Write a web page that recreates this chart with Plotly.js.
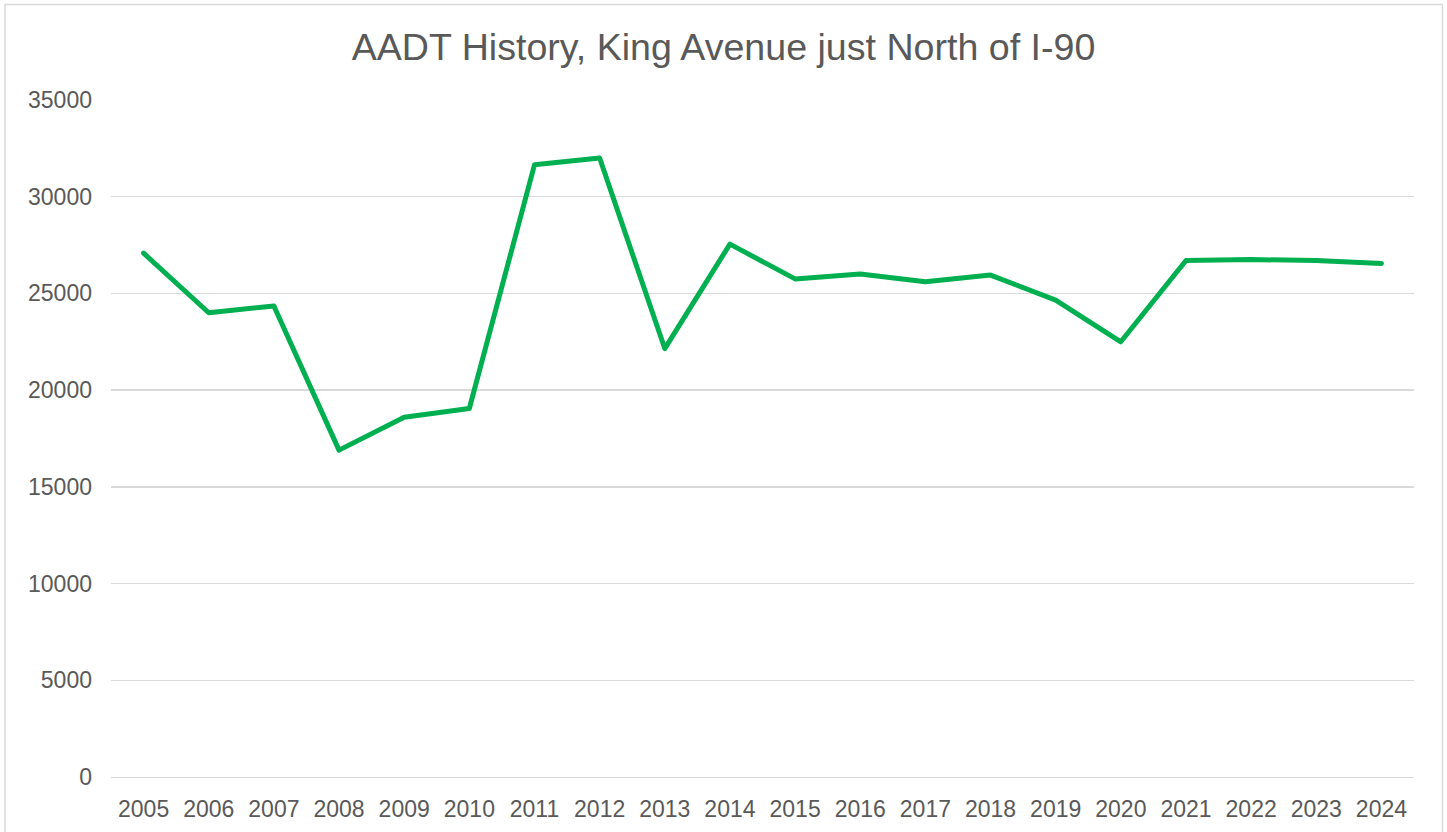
<!DOCTYPE html>
<html>
<head>
<meta charset="utf-8">
<script src="https://cdn.plot.ly/plotly-3.0.1.min.js"></script>
<style>
  html, body { margin: 0; padding: 0; background: #ffffff; }
  #chart { width: 1447px; height: 832px; }
  #chart .js-line { stroke-linejoin: round !important; stroke-linecap: round !important; }
</style>
</head>
<body>
<div id="chart"></div>
<script>
const years = ["2005","2006","2007","2008","2009","2010","2011","2012","2013","2014",
               "2015","2016","2017","2018","2019","2020","2021","2022","2023","2024"];
const aadt = [27080, 24000, 24350, 16900, 18600, 19050, 31650, 32000, 22150, 27550,
              25750, 26000, 25600, 25950, 24650, 22500, 26700, 26750, 26700, 26550];
const yTicks = [0, 5000, 10000, 15000, 20000, 25000, 30000, 35000];
const chartTitle = "AADT History, King Avenue just North of I-90";

const fontFam = '"Liberation Sans", Arial, sans-serif';
const txtColor = '#595959';
const gridColor = '#D9D9D9';

const trace = {
  x: years,
  y: aadt,
  type: 'scatter',
  mode: 'lines',
  line: { color: '#00B050', width: 5 },
  hoverinfo: 'x+y'
};

const layout = {
  width: 1447,
  height: 832,
  margin: { l: 111, r: 33, t: 100, b: 55 },
  paper_bgcolor: '#ffffff',
  plot_bgcolor: '#ffffff',
  showlegend: false,
  title: {
    text: chartTitle,
    font: { family: fontFam, size: 37.6, color: txtColor },
    x: 0.5, xref: 'container', xanchor: 'center',
    y: 1 - 47 / 832, yref: 'container', yanchor: 'middle'
  },
  xaxis: {
    type: 'category',
    range: [-0.5, years.length - 0.5],
    showgrid: false,
    showline: true,
    linecolor: gridColor,
    linewidth: 1.3,
    ticks: '',
    tickfont: { family: fontFam, size: 23, color: txtColor },
    ticklabelstandoff: 11,
    fixedrange: true
  },
  yaxis: {
    range: [0, 35000],
    tickvals: yTicks,
    ticktext: yTicks.map(String),
    showgrid: true,
    gridcolor: gridColor,
    gridwidth: 1.3,
    zeroline: false,
    showline: false,
    ticks: '',
    tickfont: { family: fontFam, size: 23, color: txtColor },
    ticklabelstandoff: 18,
    fixedrange: true
  },
  shapes: [{
    type: 'rect',
    xref: 'paper', yref: 'paper',
    x0: (5 - 111) / 1303, x1: (1442.5 - 111) / 1303,
    y0: (777 - 845) / 677, y1: (777 - 4.5) / 677,
    line: { color: gridColor, width: 1.5 },
    fillcolor: 'rgba(0,0,0,0)',
    layer: 'below'
  }]
};

Plotly.newPlot('chart', [trace], layout, { displayModeBar: false, staticPlot: true });
</script>
</body>
</html>
